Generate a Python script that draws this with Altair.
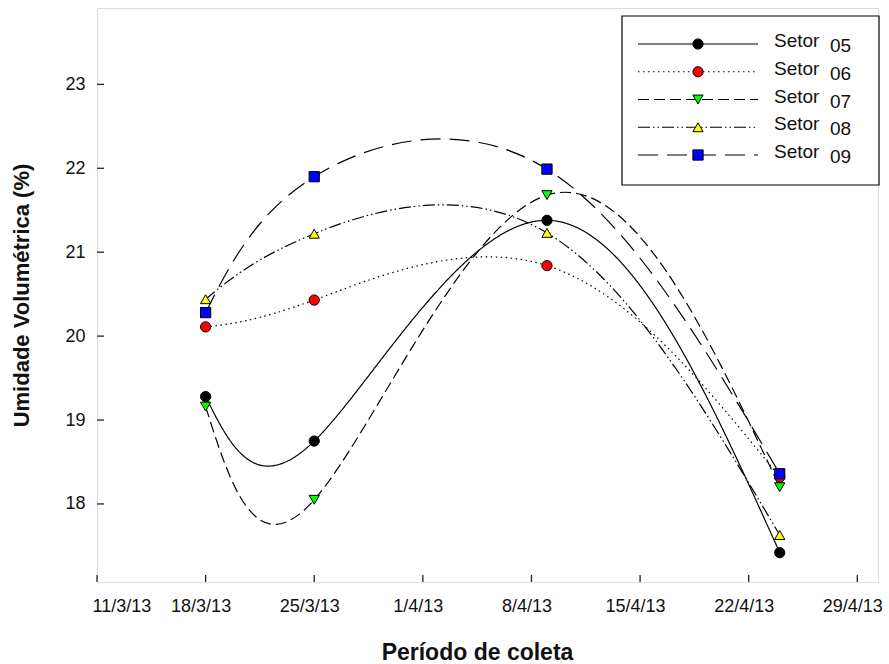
import altair as alt
import pandas as pd

# Collection dates and volumetric moisture per sector
dates = ["2013-03-18", "2013-03-25", "2013-04-09", "2013-04-24"]
setores = ["Setor 05", "Setor 06", "Setor 07", "Setor 08", "Setor 09"]
numeros = ["05", "06", "07", "08", "09"]
setor_05 = [19.28, 18.75, 21.38, 17.42]
setor_06 = [20.11, 20.43, 20.84, 18.32]
setor_07 = [19.16, 18.05, 21.68, 18.20]
setor_08 = [20.44, 21.22, 21.23, 17.63]
setor_09 = [20.28, 21.90, 21.99, 18.36]

y_ticks = [18, 19, 20, 21, 22, 23]
x_ticks = ["2013-03-11", "2013-03-18", "2013-03-25", "2013-04-01",
           "2013-04-08", "2013-04-15", "2013-04-22", "2013-04-29"]

dashes = [[1, 0], [1.5, 3.5], [11, 5], [12, 3, 1.5, 3, 1.5, 3], [20, 9]]
shapes = ["circle", "circle", "triangle-down", "triangle-up", "square"]
fills = ["#000000", "#ff0000", "#00ff00", "#ffff00", "#0000ff"]
sizes = [105, 105, 115, 115, 125]

rows = []
for nome, vals in zip(setores, [setor_05, setor_06, setor_07, setor_08, setor_09]):
    for d, v in zip(dates, vals):
        rows.append({"date": d, "serie": nome, "value": v})
df = pd.DataFrame(rows)

W, H = 781, 574
FONT = "Liberation Sans"

x_scale = alt.Scale(type="utc",
                    domain=[alt.DateTime(year=2013, month=3, date=11, utc=True),
                            alt.DateTime(year=2013, month=4, date=30, hours=8, utc=True)])
y_scale = alt.Scale(domain=[17.07, 23.91], nice=False, zero=False)

dash_scale = alt.Scale(domain=setores, range=dashes)
shape_scale = alt.Scale(domain=setores, range=shapes)
fill_scale = alt.Scale(domain=setores, range=fills)
size_scale = alt.Scale(domain=setores, range=sizes)

x_enc = alt.X("date:T", scale=x_scale, title="Período de coleta",
              axis=alt.Axis(values=[alt.DateTime(year=int(t[:4]), month=int(t[5:7]),
                                                 date=int(t[8:]), utc=True) for t in x_ticks],
                            labelExpr="utcFormat(datum.value, '%-d/%-m/%y')",
                            ticks=False, grid=False, labelPadding=15, labelOffset=-5,
                            labelFontSize=18, titleFontSize=23, titleFontWeight="bold",
                            titlePadding=26, titleX=380, labelFont=FONT, titleFont=FONT,
                            domain=False, labelColor="#111", titleColor="#111"))
y_enc = alt.Y("value:Q", scale=y_scale, title="Umidade Volumétrica (%)",
              axis=alt.Axis(values=y_ticks, format="d", ticks=False, grid=False,
                            labelPadding=12, labelFontSize=18, titleFontSize=22,
                            titleFontWeight="bold", titlePadding=31, labelFont=FONT,
                            titleFont=FONT, domain=False, labelColor="#111",
                            titleColor="#111"))

lines = alt.Chart(df).mark_line(interpolate="natural", color="black", strokeWidth=1.2).encode(
    x=x_enc, y=y_enc,
    strokeDash=alt.StrokeDash("serie:N", scale=dash_scale, legend=None),
    detail="serie:N",
)

points = alt.Chart(df).mark_point(filled=True, stroke="black", strokeWidth=1, opacity=1).encode(
    x="date:T", y="value:Q",
    shape=alt.Shape("serie:N", scale=shape_scale, legend=None),
    fill=alt.Fill("serie:N", scale=fill_scale, legend=None),
    size=alt.Size("serie:N", scale=size_scale, legend=None),
)

# inward tick marks on both axes
ytick_df = pd.DataFrame({"value": y_ticks})
xtick_df = pd.DataFrame({"date": x_ticks})
yticks = alt.Chart(ytick_df).mark_rule(color="#222", strokeWidth=1.3).encode(
    y="value:Q", x=alt.value(0), x2=alt.value(7))
xticks = alt.Chart(xtick_df).mark_rule(color="#222", strokeWidth=1.3).encode(
    x="date:T", y=alt.value(H), y2=alt.value(H - 7))

main = alt.layer(lines, points, yticks, xticks)

# legend box
leg_df = pd.DataFrame({"serie": setores, "numero": numeros, "row": list(range(5))})
leg_y = alt.Y("row:Q", scale=alt.Scale(domain=[0, 4], range=[36, 147]), axis=None)

box = alt.Chart(pd.DataFrame({"k": [0]})).mark_rect(
    fill="white", stroke="black", strokeWidth=1.2).encode(
    x=alt.value(525), x2=alt.value(782), y=alt.value(8), y2=alt.value(177))
leg_lines = alt.Chart(leg_df).mark_rule(color="black", strokeWidth=1.2).encode(
    y=leg_y, x=alt.value(541), x2=alt.value(661),
    strokeDash=alt.StrokeDash("serie:N", scale=dash_scale, legend=None))
leg_points = alt.Chart(leg_df).mark_point(filled=True, stroke="black", strokeWidth=1, opacity=1).encode(
    y=leg_y, x=alt.value(601),
    shape=alt.Shape("serie:N", scale=shape_scale, legend=None),
    fill=alt.Fill("serie:N", scale=fill_scale, legend=None),
    size=alt.Size("serie:N", scale=size_scale, legend=None))
leg_text = alt.Chart(leg_df).mark_text(align="left", baseline="middle", fontSize=19,
                                       font=FONT, color="#111", dy=-3).encode(
    y=leg_y, x=alt.value(677), text=alt.value("Setor"))
leg_num = alt.Chart(leg_df).mark_text(align="left", baseline="middle", fontSize=19,
                                      font=FONT, color="#111", dy=2).encode(
    y=leg_y, x=alt.value(733), text="numero:N")

legend = alt.layer(box, leg_lines, leg_points, leg_text, leg_num)

chart = alt.layer(main, legend).resolve_scale(y="independent").properties(
    width=W, height=H,
    autosize=alt.AutoSizeParams(type="none"),
    padding={"left": 97, "top": 8, "right": 11, "bottom": 82},
).configure_view(stroke="#222", strokeWidth=1.5).configure(background="white")

chart.save("out.html", embed_options={"renderer": "svg", "actions": False})
